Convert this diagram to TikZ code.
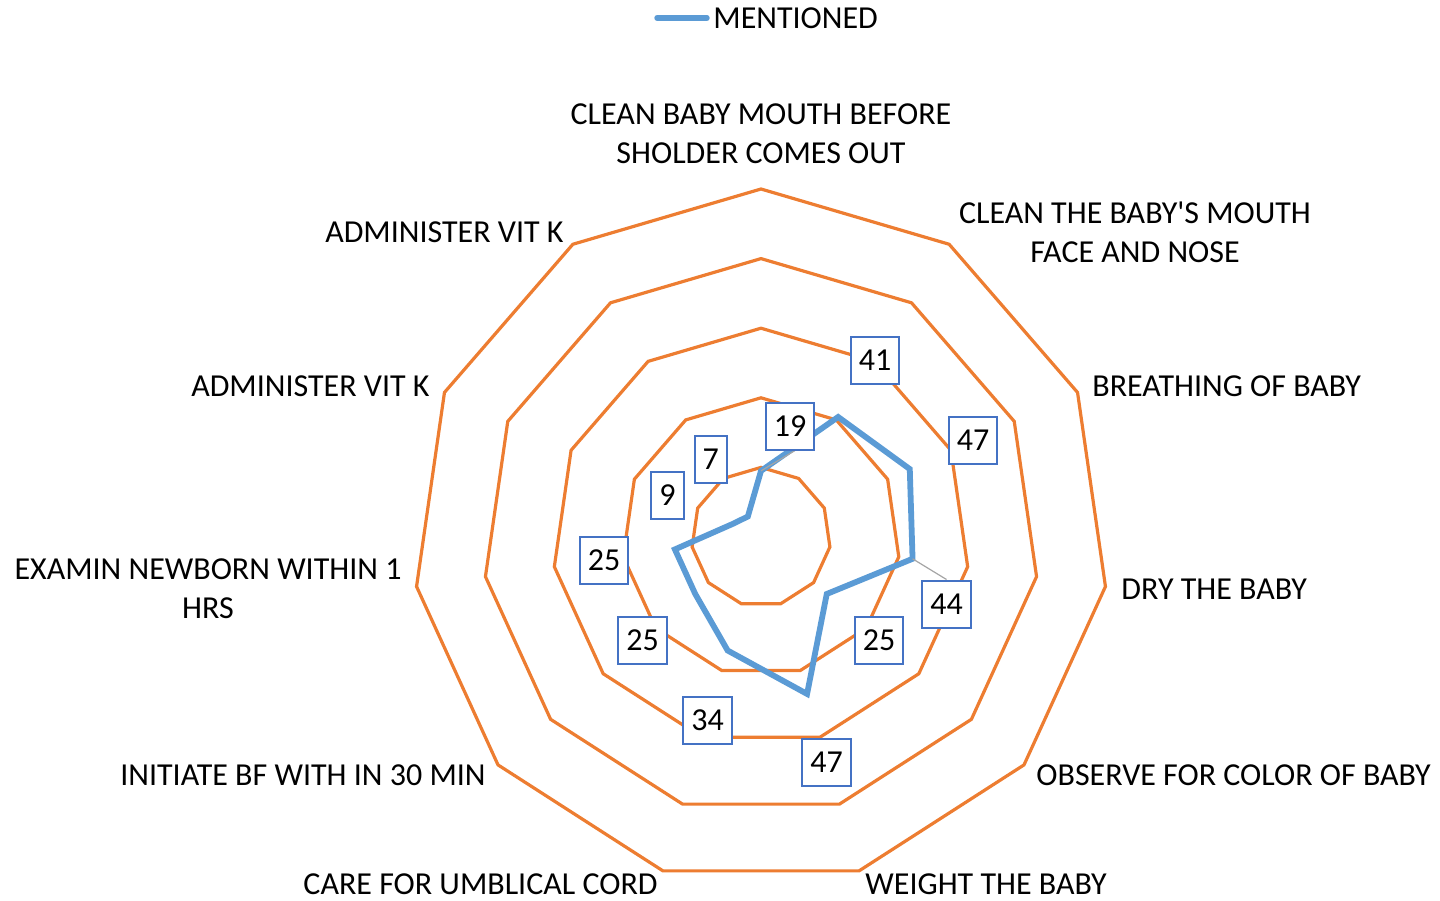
\documentclass[tikz,border=0pt]{standalone}
\usepackage{fontspec}
\setmainfont{Carlito}
\newfontfamily\plainquote{Carlito}
\definecolor{gridorange}{HTML}{ED7D31}
\definecolor{seriesblue}{HTML}{5B9BD5}
\definecolor{boxblue}{HTML}{4472C4}
\definecolor{leadergray}{HTML}{A5A5A5}
\pgfdeclarelayer{gridlayer}
\pgfdeclarelayer{linelayer}
\pgfsetlayers{gridlayer,linelayer,main}
\begin{document}
\begin{tikzpicture}[x=0.5pt,y=-0.5pt,
  every node/.style={font=\fontsize{16}{19.5}\selectfont, text=black, inner sep=0pt},
  gridline/.style={draw=gridorange, line width=1.6pt},
  series/.style={draw=seriesblue, line width=2.9pt},
  leader/.style={draw=leadergray, line width=0.6pt},
  dlab/.style={draw=boxblue, line width=1pt, fill=white, minimum height=23.5pt, inner xsep=4pt},
  cat/.style={align=center}]
\useasboundingbox (0,0) rectangle (1440,900);
\def\cx{761}\def\cy{537}
% grid rings
\begin{pgfonlayer}{gridlayer}
\foreach \i in {1,...,5}{
  \pgfmathsetmacro\r{\i*69.6}
  \draw[gridline] ({\cx},{\cy-\r}) \foreach \k in {1,...,10}{ -- ({\cx+\r*cos(90-\k*360/11)},{\cy-\r*sin(90-\k*360/11)}) } -- cycle;
}
\end{pgfonlayer}
% data points
\foreach \v [count=\k from 0] in {19,41,47,44,25,47,34,25,25,9,7}{
  \coordinate (p\k) at ({\cx+\v*3.48*cos(90-\k*360/11)},{\cy-\v*3.48*sin(90-\k*360/11)});
}
\begin{pgfonlayer}{linelayer}
\draw[series] (p0) -- (p1) -- (p2) -- (p3) -- (p4) -- (p5) -- (p6) -- (p7) -- (p8) -- (p9) -- (p10) -- cycle;
\end{pgfonlayer}
% data labels
\node[dlab] (l0) at (790,426) {19};
\node[dlab] (l1) at (875,360) {41};
\node[dlab] (l2) at (973,440) {47};
\node[dlab] (l3) at (946.5,604) {44};
\node[dlab] (l4) at (879,640) {25};
\node[dlab] (l5) at (826.5,762) {47};
\node[dlab] (l6) at (707.7,720) {34};
\node[dlab] (l7) at (642.5,640) {25};
\node[dlab] (l8) at (604,560) {25};
\node[dlab] (l9) at (667.5,495) {9};
\node[dlab] (l10) at (710.8,459) {7};
\begin{pgfonlayer}{linelayer}
\draw[leader] (p0) -- ([xshift=2.5pt]l0.south);
\draw[leader] (p3) -- (l3.north);
\end{pgfonlayer}
% category labels
\node[cat] (c0) at (761,134) {CLEAN BABY MOUTH BEFORE\\SHOLDER COMES OUT};
\node[cat] (c1) at (1135,232) {CLEAN THE BABY{\plainquote'}S MOUTH\\FACE AND NOSE};
\node[anchor=west] (c2) at (1092,386) {BREATHING OF BABY};
\node[anchor=west] (c3) at (1121,589) {DRY THE BABY};
\node[anchor=west] (c4) at (1036,775) {OBSERVE FOR COLOR OF BABY};
\node[anchor=west] (c5) at (865,884) {WEIGHT THE BABY};
\node[anchor=east] (c6) at (658,884) {CARE FOR UMBLICAL CORD};
\node[anchor=east] (c7) at (486,775) {INITIATE BF WITH IN 30 MIN};
\node[cat] (c8) at (208,589) {EXAMIN NEWBORN WITHIN 1\\HRS};
\node[anchor=east] (c9) at (430,386) {ADMINISTER VIT K};
\node[anchor=east] (c10) at (564,232) {ADMINISTER VIT K};
% legend
\coordinate (lg1) at (657,18);
\coordinate (lg2) at (707,18);
\draw[series, line width=2.7pt, line cap=round] (lg1) -- (lg2);
\node[anchor=west] (lgt) at (713,18) {MENTIONED};
\end{tikzpicture}
\end{document}
